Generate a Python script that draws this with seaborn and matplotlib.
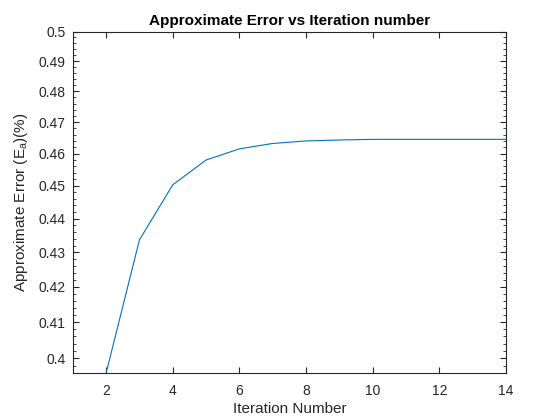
import numpy as np
import pandas as pd
import matplotlib
matplotlib.use("Agg")
import matplotlib.pyplot as plt
from matplotlib.ticker import FixedLocator, FixedFormatter, NullFormatter
import seaborn as sns

# Data
iterations = [2, 3, 4, 5, 6, 7, 8, 9, 10, 11, 12, 13, 14]
approx_error = [0.3960, 0.4337, 0.4503, 0.4580, 0.4615, 0.4632, 0.4640, 0.4643,
                0.4645, 0.4645, 0.4645, 0.4645, 0.4645]
x_ticks = [2, 4, 6, 8, 10, 12, 14]
y_ticks = [0.40, 0.41, 0.42, 0.43, 0.44, 0.45, 0.46, 0.47, 0.48, 0.49, 0.50]
y_tick_labels = ['0.4', '0.41', '0.42', '0.43', '0.44', '0.45', '0.46', '0.47',
                 '0.48', '0.49', '0.5']

sns.set_style("ticks")
plt.rcParams['font.family'] = ['Liberation Sans', 'DejaVu Sans']
plt.rcParams['mathtext.fontset'] = 'custom'
plt.rcParams['mathtext.rm'] = 'Liberation Sans'
plt.rcParams['mathtext.it'] = 'Liberation Sans'

df = pd.DataFrame({'Iteration': iterations, 'Error': approx_error})

fig = plt.figure(figsize=(5.6, 4.2), dpi=100)
ax = fig.add_axes([0.13, 0.1119, 0.7736, 0.8131])
sns.lineplot(data=df, x='Iteration', y='Error', ax=ax, color='#0072BD', linewidth=0.8)
for ln in ax.lines:
    ln.set_solid_capstyle('butt')

ax.set_yscale('log')
ax.set_xlim(1, 14)
ax.set_ylim(approx_error[0], 0.5)
ax.xaxis.set_major_locator(FixedLocator(x_ticks))
ax.yaxis.set_major_locator(FixedLocator(y_ticks))
ax.yaxis.set_major_formatter(FixedFormatter(y_tick_labels))
ax.yaxis.set_minor_locator(FixedLocator(np.arange(0.396, 0.5, 0.002)))
ax.yaxis.set_minor_formatter(NullFormatter())
ax.xaxis.set_minor_locator(FixedLocator([]))

dark = '#262626'
for s in ax.spines.values():
    s.set_visible(True)
    s.set_color(dark)
    s.set_linewidth(0.8)
ax.tick_params(axis='both', which='both', direction='in', top=True, right=True,
               colors=dark, labelcolor=dark, labelsize=10)
ax.tick_params(which='major', length=4, width=0.8)
ax.tick_params(which='minor', length=2, width=0.6)
ax.tick_params(axis='x', which='major', pad=8)
ax.tick_params(axis='y', which='major', pad=5)

ax.set_xlabel('Iteration Number', fontsize=11, color=dark, labelpad=3)
ax.set_ylabel('Approximate Error (E$_{\\mathrm{a}}$)(%)', fontsize=11, color=dark,
              labelpad=6)
ax.set_title('Approximate Error vs Iteration number', fontsize=11, fontweight='bold',
             color='black', pad=5)

fig.savefig('out.png', dpi=100)
